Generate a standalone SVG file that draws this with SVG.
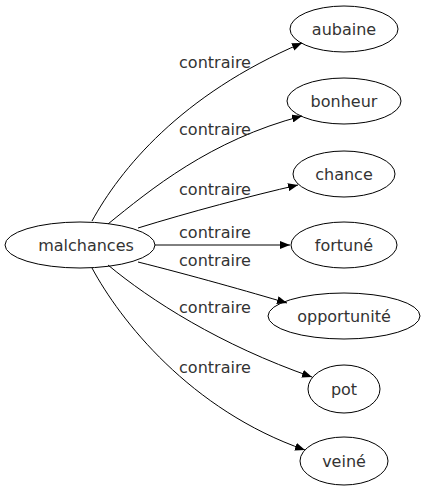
<svg xmlns="http://www.w3.org/2000/svg" width="424" height="491" viewBox="0 0 424 491">
<style>
.n ellipse{fill:none;stroke:#000;stroke-width:1}
text{font-family:"DejaVu Sans",sans-serif;font-size:16px;fill:#333;text-anchor:middle}
.e path{fill:none;stroke:#000;stroke-width:1}
</style>
<defs>
<marker id="a" markerWidth="11" markerHeight="8" refX="10" refY="4" orient="auto" markerUnits="userSpaceOnUse">
<path d="M0,0 L10,4 L0,8 Z" fill="#000"/>
</marker>
</defs>
<rect width="424" height="491" fill="#fff"/>
<g class="e">
<path d="M92,221 C120,170 180,95 302,43" marker-end="url(#a)"/>
<path d="M108,224 C150,190 210,140 302,116" marker-end="url(#a)"/>
<path d="M138,228 C190,212 250,196 298,185" marker-end="url(#a)"/>
<path d="M155,245 L290,245" marker-end="url(#a)"/>
<path d="M138,262 C190,275 250,292 287,303" marker-end="url(#a)"/>
<path d="M108,265 C150,300 220,345 312,377" marker-end="url(#a)"/>
<path d="M92,268 C120,320 190,410 305,450" marker-end="url(#a)"/>
<text x="215" y="68">contraire</text>
<text x="215" y="135">contraire</text>
<text x="215" y="195">contraire</text>
<text x="215" y="238">contraire</text>
<text x="215" y="266">contraire</text>
<text x="215" y="313">contraire</text>
<text x="215" y="373">contraire</text>
</g>
<g class="n" id="malchances"><ellipse cx="80" cy="245" rx="75" ry="23"/><text x="86" y="251">malchances</text></g>
<g class="n" id="aubaine"><ellipse cx="344" cy="29" rx="54" ry="23"/><text x="344" y="35">aubaine</text></g>
<g class="n" id="bonheur"><ellipse cx="344" cy="101" rx="57" ry="23"/><text x="344" y="107">bonheur</text></g>
<g class="n" id="chance"><ellipse cx="344" cy="174" rx="51" ry="23"/><text x="344" y="180">chance</text></g>
<g class="n" id="fortune"><ellipse cx="344" cy="245" rx="53" ry="23"/><text x="344" y="251">fortuné</text></g>
<g class="n" id="opportunite"><ellipse cx="344" cy="316" rx="76" ry="23"/><text x="344" y="322">opportunité</text></g>
<g class="n" id="pot"><ellipse cx="344" cy="389" rx="36" ry="24"/><text x="344" y="395">pot</text></g>
<g class="n" id="veine"><ellipse cx="344" cy="461" rx="44" ry="24"/><text x="344" y="467">veiné</text></g>
</svg>
